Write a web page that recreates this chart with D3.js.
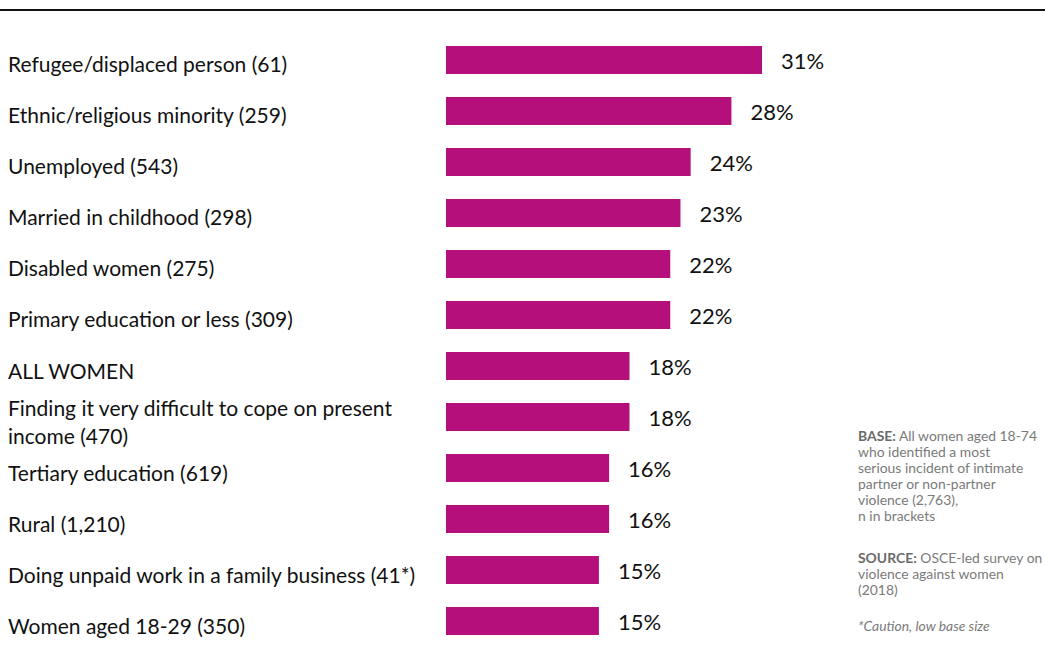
<!DOCTYPE html>
<html><head><meta charset="utf-8">
<script src="https://cdn.jsdelivr.net/npm/d3@7"></script>
<style>body{margin:0;background:#fff}svg{display:block}</style>
</head><body>
<svg id="chart" width="1045" height="658"></svg>
<script>
const categories = [
  "Refugee/displaced person (61)",
  "Ethnic/religious minority (259)",
  "Unemployed (543)",
  "Married in childhood (298)",
  "Disabled women (275)",
  "Primary education or less (309)",
  "ALL WOMEN",
  "Finding it very difficult to cope on present|income (470)",
  "Tertiary education (619)",
  "Rural (1,210)",
  "Doing unpaid work in a family business (41*)",
  "Women aged 18-29 (350)"
];
const values = [31, 28, 24, 23, 22, 22, 18, 18, 16, 16, 15, 15];
const baseNote = [
  ["BASE:", " All women aged 18-74"],
  ["", "who identified a most"],
  ["", "serious incident of intimate"],
  ["", "partner or non-partner"],
  ["", "violence (2,763),"],
  ["", "n in brackets"]
];
const sourceNote = [
  ["SOURCE:", " OSCE-led survey on"],
  ["", "violence against women"],
  ["", "(2018)"]
];
const cautionNote = "*Caution, low base size";

const svg = d3.select("#chart");
const font = "Lato, 'Open Sans', sans-serif";
const barColor = "#B50F7C";

svg.append("line").attr("x1", 0).attr("x2", 1045).attr("y1", 10).attr("y2", 10)
  .attr("stroke", "#111").attr("stroke-width", 2);

const x = d3.scaleLinear().domain([0, 31]).range([446, 762]);
const y = d3.scaleBand().domain(categories).range([46, 635]).paddingInner(0.451).paddingOuter(0);

const data = categories.map((c, i) => ({c, v: values[i]}));

svg.selectAll("rect.bar").data(data).join("rect")
  .attr("class", "bar")
  .attr("x", x(0)).attr("y", d => y(d.c))
  .attr("width", d => x(d.v) - x(0)).attr("height", y.bandwidth())
  .attr("fill", barColor);

svg.selectAll("text.val").data(data).join("text")
  .attr("class", "val")
  .attr("x", d => x(d.v) + 19)
  .attr("y", d => y(d.c) + y.bandwidth() / 2 + 9)
  .attr("font-family", font).attr("font-size", 22).attr("fill", "#111")
  .text(d => d.v + "%");

const lab = svg.selectAll("text.cat").data(data).join("text")
  .attr("class", "cat")
  .attr("font-family", font).attr("font-size", 21).attr("fill", "#111");
lab.each(function(d) {
  const lines = d.c.split("|");
  const t = d3.select(this);
  const cy = y(d.c) + y.bandwidth() / 2;
  const lh = 28;
  const y0 = cy + 12.5 - (lines.length - 1) * lh / 2;
  lines.forEach((ln, i) => {
    t.append("tspan").attr("x", 8).attr("y", y0 + i * lh).text(ln);
  });
});

function note(lines, y0, italic) {
  const t = svg.append("text").attr("font-family", font).attr("font-size", 13.9).attr("fill", "#7a7a7a");
  if (italic) t.attr("font-style", "italic");
  lines.forEach((ln, i) => {
    const ts = t.append("tspan").attr("x", 858).attr("y", y0 + i * 16);
    if (ln[0]) ts.append("tspan").attr("font-weight", "bold").attr("fill", "#6a6a6a").text(ln[0]);
    ts.append("tspan").text(ln[1]);
  });
}
note(baseNote, 441);
note(sourceNote, 563);
note([["", cautionNote]], 631, true);
</script>
</body></html>
